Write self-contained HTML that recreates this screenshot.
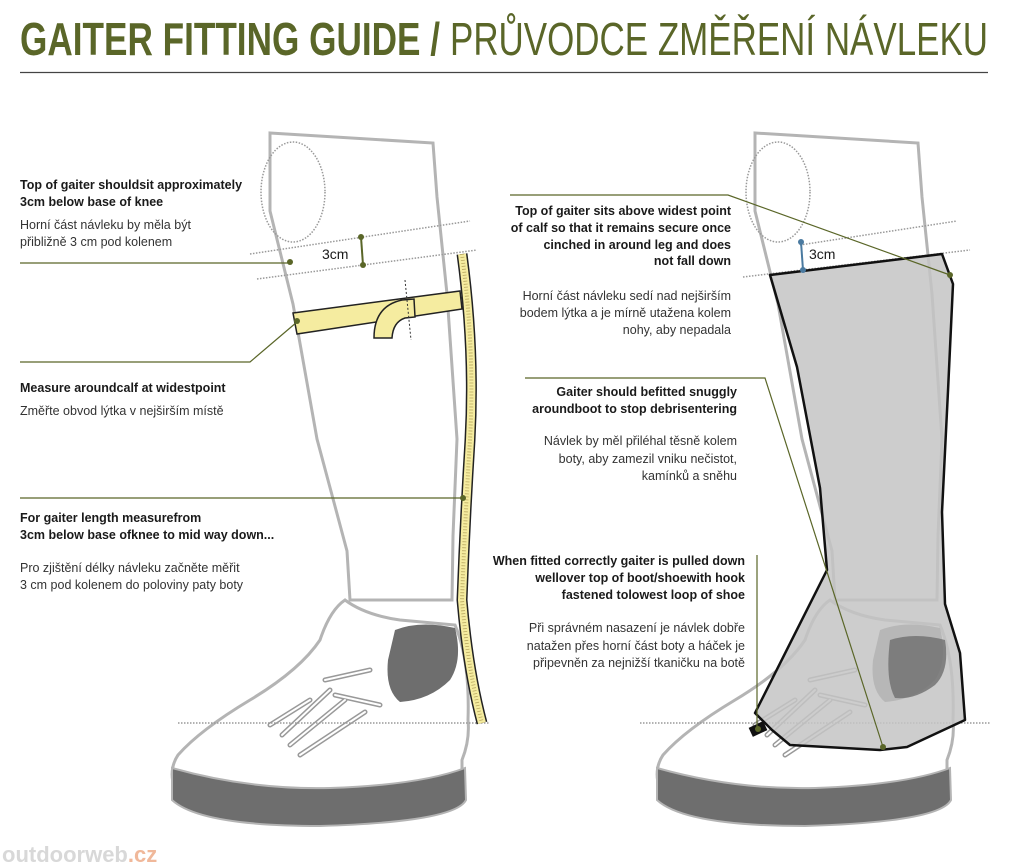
<!DOCTYPE html>
<html><head><meta charset="utf-8"><style>
html,body{margin:0;padding:0;background:#fff;width:1024px;height:868px;overflow:hidden}
svg{display:block}
text{font-family:"Liberation Sans",sans-serif;fill:#1a1a1a}
.b{font-weight:bold;font-size:12.5px}
.n{font-size:12.5px;fill:#333}
</style></head><body>
<svg width="1024" height="868" viewBox="0 0 1024 868" xmlns="http://www.w3.org/2000/svg">
<defs>
<g id="leg">
  <path d="M270,133 L433,143 L437,197 L447,294 L457,439 L453,536 L452,600 L350,600 L347,551 L317,439 L293,304 L270,211 Z" fill="#fff" stroke="#b4b4b4" stroke-width="3"/>
  <ellipse cx="293" cy="192" rx="32" ry="50" fill="none" stroke="#999" stroke-width="1.5" stroke-dasharray="1.5,1.5"/>
  <path d="M345,600 Q365,615 400,620 L455,625 Q470,660 468,720 Q470,740 462,760 L462,790 Q450,815 300,812 Q200,808 175,790 Q168,770 178,755 Q200,730 250,700 Q300,670 320,640 Q330,610 345,600 Z" fill="#fff" stroke="#b4b4b4" stroke-width="3"/>
  <path d="M172,768 Q250,790 330,788 Q420,785 465,768 L466,800 Q455,822 320,826 Q200,826 172,800 Z" fill="#6e6e6e" stroke="#b4b4b4" stroke-width="2"/>
  <path d="M395,630 Q420,620 455,628 Q463,660 450,680 Q430,700 400,702 Q385,690 388,660 Z" fill="#6e6e6e"/>
  <path d="M282,735 L330,690 M290,745 L345,700 M300,755 L365,712 M325,680 L370,670 M335,695 L380,705 M270,725 L310,700" stroke="#999" stroke-width="5" fill="none" stroke-linecap="round"/>
  <path d="M282,735 L330,690 M290,745 L345,700 M300,755 L365,712 M325,680 L370,670 M335,695 L380,705 M270,725 L310,700" stroke="#fff" stroke-width="2" fill="none" stroke-linecap="round"/>
</g>
</defs>

<text x="20" y="55" font-size="46" font-weight="bold" style="fill:#5a6628" textLength="420" lengthAdjust="spacingAndGlyphs">GAITER FITTING GUIDE /</text>
<text x="450" y="55" font-size="46" style="fill:#5a6628" textLength="538" lengthAdjust="spacingAndGlyphs">PRŮVODCE ZMĚŘENÍ NÁVLEKU</text>
<line x1="20" y1="72.5" x2="988" y2="72.5" stroke="#444" stroke-width="1.2"/>

<use href="#leg"/>
<line x1="178" y1="723" x2="490" y2="723" stroke="#999" stroke-width="1.5" stroke-dasharray="1.5,1.5"/>
<line x1="250" y1="254" x2="470" y2="221" stroke="#999" stroke-width="1.5" stroke-dasharray="1.5,1.5"/>
<line x1="257" y1="279" x2="477" y2="250" stroke="#999" stroke-width="1.5" stroke-dasharray="1.5,1.5"/>
<line x1="361" y1="237" x2="363" y2="265" stroke="#5a6628" stroke-width="2"/>
<circle cx="361" cy="237" r="3" fill="#5a6628"/><circle cx="363" cy="265" r="3" fill="#5a6628"/>
<text x="322" y="259" font-size="14">3cm</text>
<path d="M293,313 L460,291 L462,309 L297,334 Z" fill="#f5eca0" stroke="#222" stroke-width="1.5"/>
<path d="M374,338 Q374,306 402,300 L414,299 L415,317 L405,318 Q393,322 392,338 Z" fill="#f5eca0" stroke="#222" stroke-width="1.5"/>
<line x1="405" y1="280" x2="411" y2="340" stroke="#333" stroke-width="1" stroke-dasharray="2,2"/>
<path d="M462,254 Q475,350 470,440 Q465,520 462,600 Q468,670 482,723" fill="none" stroke="#222" stroke-width="11"/>
<path d="M462,254 Q475,350 470,440 Q465,520 462,600 Q468,670 482,723" fill="none" stroke="#f5eca0" stroke-width="8"/>
<path d="M462,254 Q475,350 470,440 Q465,520 462,600 Q468,670 482,723" fill="none" stroke="#b9a860" stroke-width="4" stroke-dasharray="0.8,2.2"/>
<line x1="20" y1="263" x2="290" y2="263" stroke="#5a6628" stroke-width="1.2"/><circle cx="290" cy="262" r="3" fill="#5a6628"/>
<polyline points="20,362 250,362 297,322" fill="none" stroke="#5a6628" stroke-width="1.2"/><circle cx="297" cy="321" r="3" fill="#5a6628"/>
<line x1="20" y1="498" x2="463" y2="498" stroke="#5a6628" stroke-width="1.2"/><circle cx="463" cy="498" r="3" fill="#5a6628"/>

<text class="b" x="20" y="189">Top of gaiter shouldsit approximately</text>
<text class="b" x="20" y="206">3cm below base of knee</text>
<text class="n" x="20" y="229">Horní část návleku by měla být</text>
<text class="n" x="20" y="246">přibližně 3 cm pod kolenem</text>
<text class="b" x="20" y="392">Measure aroundcalf at widestpoint</text>
<text class="n" x="20" y="415">Změřte obvod lýtka v nejširším místě</text>
<text class="b" x="20" y="522">For gaiter length measurefrom</text>
<text class="b" x="20" y="539">3cm below base ofknee to mid way down...</text>
<text class="n" x="20" y="572">Pro zjištění délky návleku začněte měřit</text>
<text class="n" x="20" y="589">3 cm pod kolenem do poloviny paty boty</text>

<use href="#leg" x="485"/>
<line x1="640" y1="723" x2="990" y2="723" stroke="#999" stroke-width="1.5" stroke-dasharray="1.5,1.5"/>
<line x1="800" y1="245" x2="957" y2="221" stroke="#999" stroke-width="1.5" stroke-dasharray="1.5,1.5"/>
<line x1="743" y1="277" x2="970" y2="250" stroke="#999" stroke-width="1.5" stroke-dasharray="1.5,1.5"/>
<path d="M770,275 L942,254 L953,284 L948,391 L942,512 L945,604 L960,653 L965,720 L907,747 L880,750 L790,745 L772,730 L755,713 L827,570 L820,488 L797,367 Z" fill="#c4c4c4" fill-opacity="0.85" stroke="#111" stroke-width="2.5" stroke-linejoin="round"/>
<path d="M890,640 Q915,632 945,640 Q950,670 935,685 Q915,700 895,698 Q885,680 890,640 Z" fill="#6e6e6e" opacity="0.8"/>
<rect x="750" y="724" width="16" height="10" fill="#111" transform="rotate(-25 758 729)"/>
<line x1="801" y1="242" x2="803" y2="270" stroke="#4a7aa0" stroke-width="2"/>
<circle cx="801" cy="242" r="3" fill="#4a7aa0"/><circle cx="803" cy="270" r="3" fill="#4a7aa0"/>
<text x="809" y="259" font-size="14">3cm</text>
<polyline points="510,195 728,195 950,275" fill="none" stroke="#5a6628" stroke-width="1.2"/><circle cx="950" cy="275" r="3" fill="#5a6628"/>
<polyline points="525,378 765,378 883,747" fill="none" stroke="#5a6628" stroke-width="1.2"/><circle cx="883" cy="747" r="3" fill="#5a6628"/>
<line x1="757" y1="555" x2="757" y2="730" stroke="#5a6628" stroke-width="1.2"/><circle cx="758" cy="729" r="3" fill="#5a6628"/>

<g text-anchor="end">
<text class="b" x="731" y="215">Top of gaiter sits above widest point</text>
<text class="b" x="731" y="232">of calf so that it remains secure once</text>
<text class="b" x="731" y="249">cinched in around leg and does</text>
<text class="b" x="731" y="265">not fall down</text>
<text class="n" x="731" y="300">Horní část návleku sedí nad nejširším</text>
<text class="n" x="731" y="317">bodem lýtka a je mírně utažena kolem</text>
<text class="n" x="731" y="334">nohy, aby nepadala</text>
<text class="b" x="737" y="396">Gaiter should befitted snuggly</text>
<text class="b" x="737" y="413">aroundboot to stop debrisentering</text>
<text class="n" x="737" y="445">Návlek by měl přiléhal těsně kolem</text>
<text class="n" x="737" y="463">boty, aby zamezil vniku nečistot,</text>
<text class="n" x="737" y="480">kamínků a sněhu</text>
<text class="b" x="745" y="565">When fitted correctly gaiter is pulled down</text>
<text class="b" x="745" y="582">wellover top of boot/shoewith hook</text>
<text class="b" x="745" y="599">fastened tolowest loop of shoe</text>
<text class="n" x="745" y="632">Při správném nasazení je návlek dobře</text>
<text class="n" x="745" y="650">natažen přes horní část boty a háček je</text>
<text class="n" x="745" y="667">připevněn za nejnižší tkaničku na botě</text>
</g>

<text x="2" y="862" font-size="22" font-weight="bold" style="fill:#d8d8d8">outdoorweb<tspan style="fill:#f0b89a">.cz</tspan></text>
</svg>
</body></html>
